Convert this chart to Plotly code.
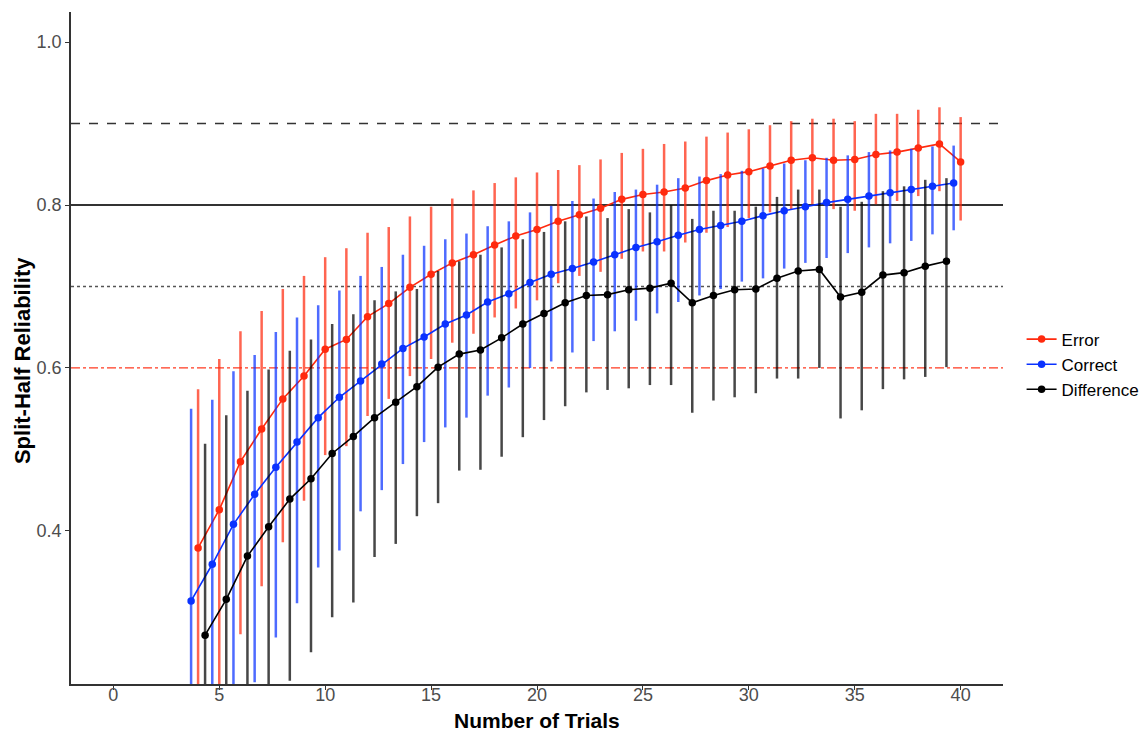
import plotly.graph_objects as go

trials = list(range(4, 41))
trials_diff = list(range(4, 40))

error_mean = [0.379, 0.426, 0.485, 0.525, 0.562, 0.590, 0.623, 0.635, 0.663, 0.679,
              0.699, 0.715, 0.729, 0.739, 0.751, 0.762, 0.770, 0.780, 0.788, 0.796,
              0.807, 0.813, 0.816, 0.821, 0.830, 0.837, 0.841, 0.848, 0.855, 0.858,
              0.855, 0.856, 0.862, 0.865, 0.870, 0.875, 0.853]
error_upper = [0.574, 0.611, 0.645, 0.670, 0.697, 0.713, 0.736, 0.747, 0.766, 0.773,
               0.786, 0.798, 0.808, 0.818, 0.827, 0.834, 0.840, 0.843, 0.849, 0.856,
               0.864, 0.869, 0.875, 0.878, 0.884, 0.889, 0.893, 0.898, 0.903, 0.906,
               0.906, 0.903, 0.912, 0.912, 0.917, 0.920, 0.908]
error_lower = [0.150, 0.205, 0.273, 0.332, 0.386, 0.437, 0.493, 0.504, 0.541, 0.562,
               0.590, 0.611, 0.631, 0.642, 0.662, 0.673, 0.683, 0.704, 0.713, 0.718,
               0.734, 0.743, 0.743, 0.754, 0.766, 0.773, 0.784, 0.791, 0.795, 0.801,
               0.795, 0.793, 0.801, 0.805, 0.811, 0.817, 0.781]

correct_mean = [0.314, 0.359, 0.408, 0.445, 0.478, 0.509, 0.539, 0.564, 0.584, 0.605,
                0.624, 0.638, 0.654, 0.665, 0.681, 0.691, 0.705, 0.715, 0.722, 0.730,
                0.739, 0.748, 0.755, 0.763, 0.770, 0.775, 0.780, 0.787, 0.793, 0.798,
                0.803, 0.807, 0.811, 0.815, 0.819, 0.823, 0.827]
correct_upper = [0.550, 0.561, 0.596, 0.616, 0.644, 0.662, 0.677, 0.695, 0.713, 0.724,
                 0.739, 0.750, 0.758, 0.765, 0.774, 0.780, 0.791, 0.799, 0.805, 0.808,
                 0.816, 0.819, 0.825, 0.833, 0.835, 0.838, 0.842, 0.845, 0.851, 0.855,
                 0.858, 0.861, 0.865, 0.867, 0.869, 0.872, 0.873]
correct_lower = [0.100, 0.150, 0.190, 0.214, 0.269, 0.311, 0.355, 0.376, 0.424, 0.450,
                 0.482, 0.509, 0.527, 0.539, 0.566, 0.576, 0.600, 0.608, 0.619, 0.633,
                 0.645, 0.658, 0.667, 0.681, 0.689, 0.697, 0.706, 0.710, 0.722, 0.729,
                 0.735, 0.741, 0.748, 0.753, 0.756, 0.764, 0.769]

diff_mean = [0.272, 0.316, 0.369, 0.405, 0.439, 0.464, 0.495, 0.516, 0.539, 0.558,
             0.577, 0.601, 0.617, 0.622, 0.637, 0.654, 0.667, 0.680, 0.689, 0.690,
             0.696, 0.698, 0.704, 0.680, 0.689, 0.696, 0.697, 0.710, 0.719, 0.721,
             0.687, 0.693, 0.714, 0.717, 0.725, 0.731]
diff_upper = [0.507, 0.542, 0.572, 0.598, 0.621, 0.635, 0.654, 0.666, 0.683, 0.694,
              0.697, 0.719, 0.731, 0.739, 0.748, 0.758, 0.767, 0.780, 0.786, 0.784,
              0.795, 0.791, 0.800, 0.783, 0.793, 0.793, 0.798, 0.810, 0.819, 0.819,
              0.798, 0.804, 0.817, 0.823, 0.831, 0.833]
diff_lower = [0.050, 0.090, 0.130, 0.170, 0.216, 0.251, 0.294, 0.312, 0.368, 0.384,
              0.418, 0.434, 0.474, 0.475, 0.491, 0.515, 0.536, 0.553, 0.570, 0.573,
              0.575, 0.579, 0.579, 0.545, 0.560, 0.564, 0.569, 0.587, 0.587, 0.600,
              0.538, 0.548, 0.574, 0.586, 0.589, 0.601]

ref_levels = [0.9, 0.8, 0.7, 0.6]
x_ticks = [0, 5, 10, 15, 20, 25, 30, 35, 40]
y_ticks = [0.4, 0.6, 0.8, 1.0]
x_title = "Number of Trials"
y_title = "Split-Half Reliability"

FONT = "Liberation Sans, Arial, sans-serif"

series = [
    ("Error", trials, error_mean, error_upper, error_lower, "#FF2A0E", "rgba(255,42,14,0.72)", 0.0),
    ("Correct", trials, correct_mean, correct_upper, correct_lower, "#0A32FF", "rgba(10,50,255,0.72)", -0.33),
    ("Difference", trials_diff, diff_mean, diff_upper, diff_lower, "#000000", "rgba(0,0,0,0.72)", 0.33),
]

fig = go.Figure()

ref_styles = [
    dict(color="#333333", width=1.5, dash="dash"),
    dict(color="#333333", width=2, dash="solid"),
    dict(color="#555555", width=1.5, dash="dot"),
    dict(color="#FF3A20", width=1.3, dash="dashdot"),
]
for lvl, st in zip(ref_levels, ref_styles):
    fig.add_shape(type="line", xref="paper", x0=0, x1=1, yref="y", y0=lvl, y1=lvl,
                  line=st, layer="below")

for name, xs, mean, up, lo, col, ecol, off in series:
    fig.add_trace(go.Scatter(
        x=[x + off for x in xs], y=mean, name=name,
        mode="lines+markers",
        line=dict(color=col, width=1.6),
        marker=dict(color=col, size=7.5),
        error_y=dict(type="data", symmetric=False,
                     array=[u - m for u, m in zip(up, mean)],
                     arrayminus=[m - l for m, l in zip(mean, lo)],
                     color=ecol, thickness=2.5, width=0),
    ))

fig.add_annotation(text="<b>" + x_title + "</b>", xref="paper", yref="paper",
                   x=0.5, y=-0.055, xanchor="center", yanchor="middle", showarrow=False,
                   font=dict(family=FONT, size=21, color="#000000"))
fig.add_annotation(text="<b>" + y_title + "</b>", xref="paper", yref="paper",
                   x=-0.0526, y=0.482, xanchor="center", yanchor="middle", showarrow=False,
                   textangle=-90, font=dict(family=FONT, size=22, color="#000000"))

fig.update_layout(
    width=1144, height=732,
    margin=dict(l=71, r=141, t=12, b=48, autoexpand=False),
    paper_bgcolor="white", plot_bgcolor="white",
    font=dict(family=FONT, size=17, color="#000000"),
    legend=dict(xref="container", yref="container", x=0.893, y=0.502,
                xanchor="left", yanchor="middle",
                font=dict(family=FONT, size=17, color="#000000"),
                bgcolor="rgba(0,0,0,0)", itemwidth=30, tracegroupgap=0),
    showlegend=True,
)
fig.update_xaxes(
    range=[-2, 42], tickvals=x_ticks, ticktext=[str(v) for v in x_ticks],
    showgrid=False, zeroline=False, showline=True, linecolor="#333333", linewidth=1.5,
    ticks="outside", ticklen=4, tickcolor="#333333", tickwidth=1.2, automargin=False,
    ticklabelstandoff=-10,
    tickfont=dict(family=FONT, size=18, color="#4D4D4D"),
)
fig.update_yaxes(
    range=[0.212, 1.037], tickvals=y_ticks, ticktext=["0.4", "0.6", "0.8", "1.0"],
    showgrid=False, zeroline=False, showline=True, linecolor="#333333", linewidth=1.5,
    ticks="outside", ticklen=4, tickcolor="#333333", tickwidth=1.2, automargin=False,
    tickfont=dict(family=FONT, size=18, color="#4D4D4D"),
)

fig.write_html("out.html")
